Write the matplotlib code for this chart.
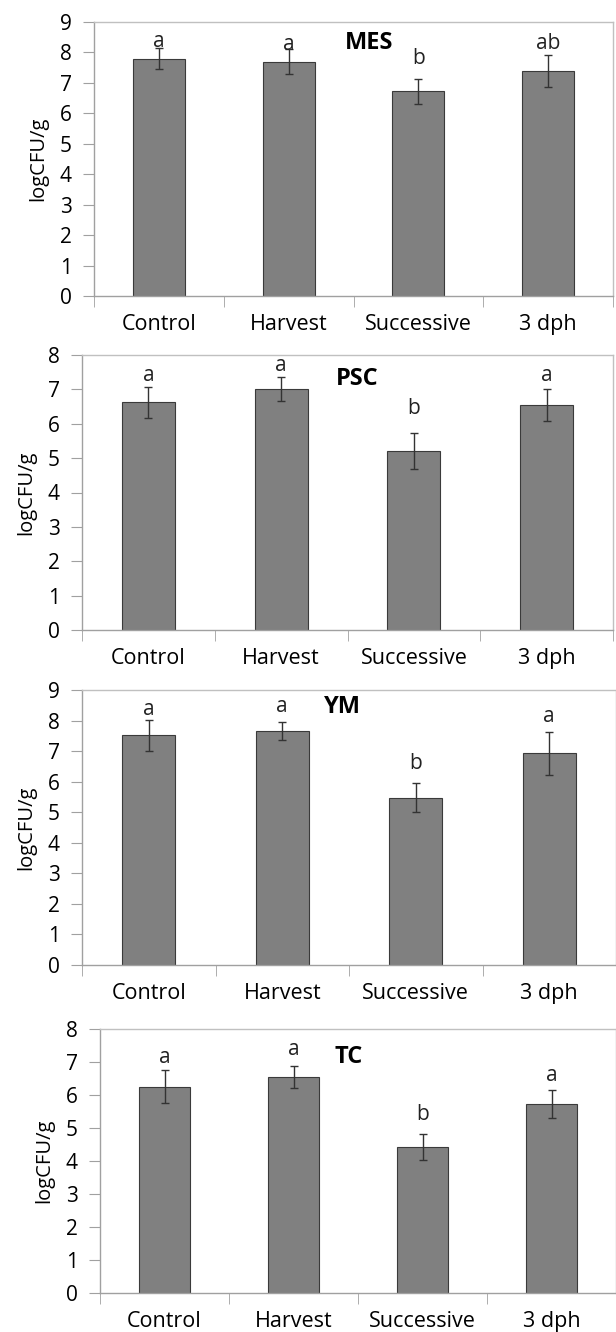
import numpy as np
import matplotlib
matplotlib.use("Agg")
import matplotlib.pyplot as plt

plt.rcParams['font.family'] = ['Open Sans', 'DejaVu Sans']

categories = ['Control', 'Harvest', 'Successive', '3 dph']

# panel data (means, errors, significance letters, letter heights)
mes_mean = [7.80, 7.70, 6.72, 7.40]
mes_err = [0.35, 0.40, 0.41, 0.52]
mes_letters = ['a', 'a', 'b', 'ab']
mes_letter_y = [8.35, 8.25, 7.80, 8.30]

psc_mean = [6.62, 7.00, 5.20, 6.55]
psc_err = [0.44, 0.35, 0.52, 0.46]
psc_letters = ['a', 'a', 'b', 'a']
psc_letter_y = [7.40, 7.70, 6.45, 7.40]

ym_mean = [7.52, 7.67, 5.48, 6.93]
ym_err = [0.50, 0.29, 0.47, 0.70]
ym_letters = ['a', 'a', 'b', 'a']
ym_letter_y = [8.35, 8.45, 6.60, 8.12]

tc_mean = [6.25, 6.55, 4.42, 5.72]
tc_err = [0.50, 0.33, 0.40, 0.43]
tc_letters = ['a', 'a', 'b', 'a']
tc_letter_y = [7.15, 7.38, 5.40, 6.60]

panels = [
    # name, means, errs, letters, letter y, ymax, title x, title y, rect (px)
    ('MES', mes_mean, mes_err, mes_letters, mes_letter_y, 9, 1.62, 8.3, (94, 22, 613, 296)),
    ('PSC', psc_mean, psc_err, psc_letters, psc_letter_y, 8, 1.57, 7.3, (82, 355, 613, 630)),
    ('YM', ym_mean, ym_err, ym_letters, ym_letter_y, 9, 1.45, 8.45, (82, 690, 616, 965)),
    ('TC', tc_mean, tc_err, tc_letters, tc_letter_y, 8, 1.43, 7.15, (100, 1029, 616, 1293)),
]

W, H = 616, 1332
fig = plt.figure(figsize=(W / 100, H / 100), dpi=100)
fig.patch.set_facecolor('white')

x = np.arange(len(categories))

for name, means, errs, letters, ly, ymax, tx, ty, (l, t, r, b) in panels:
    ax = fig.add_axes([l / W, 1 - b / H, (r - l) / W, (b - t) / H])
    ax.bar(x, means, width=0.4, color='#808080', edgecolor='#3a3a3a', linewidth=0.8, zorder=2)
    ax.errorbar(x, means, yerr=errs, fmt='none', ecolor='#333333', elinewidth=1.0,
                capsize=3, capthick=1.0, zorder=3)
    for xi, lab, yy in zip(x, letters, ly):
        ax.text(xi, yy, lab, ha='center', va='center', fontsize=15, color='#222222', zorder=4)
    ax.text(tx, ty, name, ha='center', va='center', fontsize=17, fontweight='bold', color='black')

    ax.set_xlim(-0.5, 3.5)
    ax.set_ylim(0, ymax)
    ax.set_yticks(range(0, ymax + 1))
    ax.set_xticks(x)
    ax.set_xticklabels(categories)
    ax.set_xticks(np.arange(-0.5, 4.0, 1.0), minor=True)
    ax.tick_params(axis='x', which='major', length=0, pad=13, labelsize=15.5)
    ax.tick_params(axis='x', which='minor', length=8, color='#a0a0a0', direction='out')
    ax.tick_params(axis='y', length=8, color='#a0a0a0', labelsize=15, pad=8)
    ax.set_ylabel('logCFU/g', fontsize=14.5, labelpad=8)

    for side in ['top', 'right']:
        ax.spines[side].set_color('#c0c0c0')
        ax.spines[side].set_linewidth(1.0)
    for side in ['left', 'bottom']:
        ax.spines[side].set_color('#a0a0a0')
        ax.spines[side].set_linewidth(1.0)

fig.savefig('out.png', dpi=100, facecolor='white')
